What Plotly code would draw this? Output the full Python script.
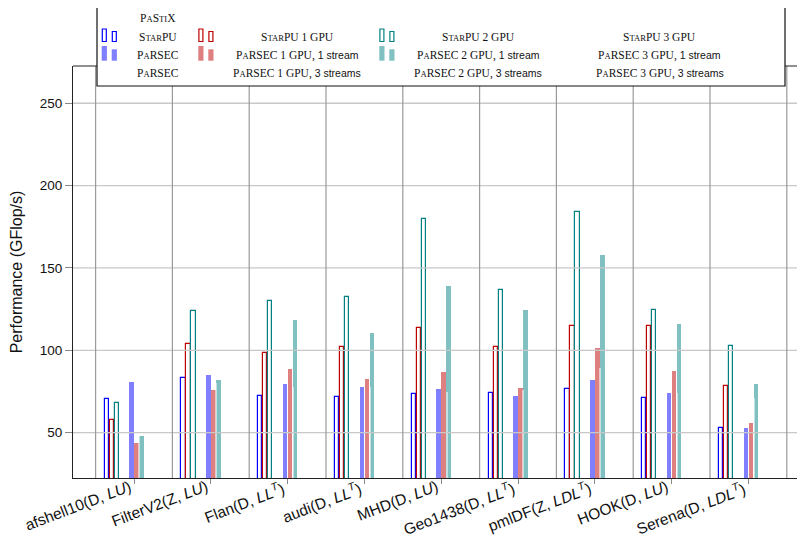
import plotly.graph_objects as go

categories = ["afshell10(D, <i>LU</i>)", "FilterV2(Z, <i>LU</i>)", "Flan(D, <i>LL<sup>T</sup></i>)",
              "audi(D, <i>LL<sup>T</sup></i>)", "MHD(D, <i>LU</i>)", "Geo1438(D, <i>LL<sup>T</sup></i>)",
              "pmlDF(Z, <i>LDL<sup>T</sup></i>)", "HOOK(D, <i>LU</i>)", "Serena(D, <i>LDL<sup>T</sup></i>)"]
starpu = [70.6, 83.4, 72.5, 71.9, 73.3, 73.9, 76.5, 71.1, 52.9]
starpu_1gpu = [57.7, 104.0, 98.4, 101.8, 113.3, 101.8, 114.8, 114.8, 78.1]
starpu_2gpu = [68.0, 123.7, 130.0, 132.4, 179.7, 136.6, 183.8, 124.5, 102.6]
parsec = [80.8, 85.2, 79.6, 77.7, 76.5, 72.5, 81.8, 74.1, 52.9]
parsec_1gpu_1s = [43.7, 75.9, 88.9, 82.8, 86.9, 76.9, 101.2, 87.5, 56.1]
parsec_2gpu_1s = [48.2, 82.0, 118.2, 110.5, 139.3, 124.5, 157.9, 116.2, 79.6]
parsec_2gpu_3s = [48.0, 80.0, 78.0, 77.9, 75.0, 76.0, 89.3, 74.0, 71.0]
yticks = [50, 100, 150, 200, 250]

BLUE, RED, TEAL = "#0000ff", "#bf0000", "#008080"
BLUE_F, RED_F, TEAL_F = "#8080ff", "#df8080", "#80c0c0"

# the page body has an 8px margin; the figure is sized so the window is filled
OFF = 8
W, H = 805 - OFF, 538 - OFF
L, R, T, B = 73 - OFF, 0, 66 - OFF, 60
PW, PH = W - L - R, H - T - B
GROUP_PX = 76.8
u = 1.0 / GROUP_PX  # data units per pixel along x

idx = list(range(len(categories)))
fig = go.Figure()

def outline(vals, color, off):
    fig.add_trace(go.Bar(x=[i + off * u for i in idx], y=vals, width=4.2 * u,
                         marker=dict(color="white", line=dict(color=color, width=1.2)),
                         showlegend=False))

def filled(vals, color, off, w=4.6, opacity=1.0):
    fig.add_trace(go.Bar(x=[i + off * u for i in idx], y=vals, width=w * u, opacity=opacity,
                         marker=dict(color=color, line=dict(width=0)), showlegend=False))

outline(starpu, BLUE, -27.3)
outline(starpu_1gpu, RED, -22.3)
outline(starpu_2gpu, TEAL, -17.3)
filled(parsec, BLUE_F, -2.5)
filled(parsec_1gpu_1s, RED_F, 2.5)
filled(parsec_2gpu_1s, TEAL_F, 7.5)
filled(parsec_2gpu_3s, "#ffffff", 5.6, w=1.4, opacity=0.55)

shapes = []
for v in yticks:
    shapes.append(dict(type="line", xref="paper", yref="y", x0=0, x1=1, y0=v, y1=v,
                       line=dict(color="#c8c8c8", width=1.3), layer="above"))
for i in idx + [len(idx)]:
    shapes.append(dict(type="line", xref="x", yref="paper", x0=i - 0.5, x1=i - 0.5, y0=0, y1=1,
                       line=dict(color="#9a9a9a", width=1.2), layer="above"))
shapes.append(dict(type="line", xref="paper", yref="paper", x0=0, x1=1, y0=1, y1=1,
                   line=dict(color="#222", width=1.2), layer="above"))

def px2x(px):  # window pixel -> paper
    return (px - OFF - L) / PW

def py2y(py):
    return (H - B - (py - OFF)) / PH

shapes.append(dict(type="rect", xref="paper", yref="paper", x0=px2x(97), x1=px2x(785),
                   y0=py2y(86), y1=py2y(6), fillcolor="white", line=dict(color="#111", width=1.2),
                   layer="above"))
for cx, col, fcol in [(101.7, BLUE, BLUE_F), (198.3, RED, RED_F), (379.3, TEAL, TEAL_F)]:
    shapes.append(dict(type="rect", xref="paper", yref="paper", x0=px2x(cx + 0.6), x1=px2x(cx + 4.6),
                       y0=py2y(41.5), y1=py2y(29), fillcolor="white", line=dict(color=col, width=1.2), layer="above"))
    shapes.append(dict(type="rect", xref="paper", yref="paper", x0=px2x(cx + 10.6), x1=px2x(cx + 14.6),
                       y0=py2y(41.5), y1=py2y(31.5), fillcolor="white", line=dict(color=col, width=1.2), layer="above"))
    shapes.append(dict(type="rect", xref="paper", yref="paper", x0=px2x(cx), x1=px2x(cx + 5.2),
                       y0=py2y(60.7), y1=py2y(46), fillcolor=fcol, line=dict(width=0), layer="above"))
    shapes.append(dict(type="rect", xref="paper", yref="paper", x0=px2x(cx + 10), x1=px2x(cx + 15.2),
                       y0=py2y(60.7), y1=py2y(49.3), fillcolor=fcol, line=dict(width=0), layer="above"))

SC = "font-size:8.6px"

def sc(word):
    out = ""
    for ch in word:
        if ch.islower():
            out += "<span style='%s'>%s</span>" % (SC, ch.upper())
        else:
            out += ch
    return out

def sans(t):
    return "<span style='font-family:Liberation Sans;font-size:10.5px'>%s</span>" % t

legend_rows = [
    (157.7, 18.3, sc("PaStiX")),
    (157.7, 37.3, sc("StarPU")),
    (157.7, 55.3, sc("PaRSEC")),
    (157.7, 73.3, sc("PaRSEC")),
    (297.0, 37.3, sc("StarPU") + " 1 GPU"),
    (297.0, 55.3, sc("PaRSEC") + " 1 GPU, " + sans("1 stream")),
    (297.0, 73.3, sc("PaRSEC") + " 1 GPU, " + sans("3 streams")),
    (478.0, 37.3, sc("StarPU") + " 2 GPU"),
    (478.0, 55.3, sc("PaRSEC") + " 2 GPU, " + sans("1 stream")),
    (478.0, 73.3, sc("PaRSEC") + " 2 GPU, " + sans("3 streams")),
    (659.5, 37.3, sc("StarPU") + " 3 GPU"),
    (659.5, 55.3, sc("PaRSEC") + " 3 GPU, " + sans("1 stream")),
    (659.5, 73.3, sc("PaRSEC") + " 3 GPU, " + sans("3 streams")),
]
annotations = []
for cx, cy, txt in legend_rows:
    annotations.append(dict(x=px2x(cx), y=py2y(cy), xref="paper", yref="paper", text=txt,
                            showarrow=False, xanchor="center", yanchor="middle",
                            font=dict(family="Liberation Serif", size=11.5, color="#111")))
# rotated category labels, right end at the tick
for i, lab in zip(idx, categories):
    annotations.append(dict(x=i, y=0, xref="x", yref="paper", text=lab, textangle=-21,
                            showarrow=False, xanchor="right", yanchor="top", xshift=2, yshift=3,
                            font=dict(family="Liberation Sans", size=15.5, color="#111")))

fig.update_layout(
    width=W, height=H, margin=dict(l=L, r=R, t=T, b=B, autoexpand=False),
    plot_bgcolor="white", paper_bgcolor="white", barmode="overlay", bargap=0,
    shapes=shapes, annotations=annotations, showlegend=False,
    font=dict(family="Liberation Sans", color="#111"),
)
fig.update_xaxes(range=[-(134 - 73) * u, (805 - 134) * u], tickvals=idx, showticklabels=False,
                 showgrid=False, zeroline=False, showline=True, linecolor="#222",
                 linewidth=1.2, ticks="outside", ticklen=5, tickcolor="#888", automargin=False)
fig.update_yaxes(range=[22.5, 272.6], tickvals=yticks, showgrid=False, zeroline=False, showline=True,
                 linecolor="#222", linewidth=1.2, ticks="outside", ticklen=7, tickcolor="#888",
                 automargin=False,
                 tickfont=dict(family="Liberation Sans", size=13.5, color="#111"),
                 title=dict(text="Performance (GFlop/s)", font=dict(family="Liberation Sans", size=16),
                            standoff=14))
fig.write_html("out.html")
